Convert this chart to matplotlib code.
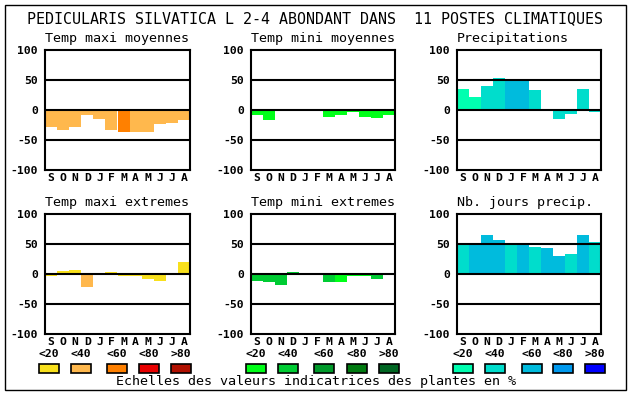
import matplotlib
matplotlib.use("Agg")
import matplotlib.pyplot as plt
from matplotlib.patches import Rectangle

W, H = 630, 394
months = ["S", "O", "N", "D", "J", "F", "M", "A", "M", "J", "J", "A"]
scale_labels = ["<20", "<40", "<60", "<80", ">80"]

title = "PEDICULARIS SILVATICA L 2-4 ABONDANT DANS  11 POSTES CLIMATIQUES"
footer = "Echelles des valeurs indicatrices des plantes en %"

oranges = ["#F8E01C", "#FFB84D", "#FF8000", "#E80000", "#B01000"]
greens = ["#00FF18", "#00CC33", "#009A2A", "#007A10", "#006622"]
blues = ["#00FFB0", "#00DDCC", "#00BBDD", "#0099EE", "#0000FF"]

# panel values
tmax_moy = [-28, -33, -28, -8, -15, -33, -36, -36, -36, -23, -21, -16]
tmax_moy_lvl = [1, 1, 1, 1, 1, 1, 2, 1, 1, 1, 1, 1]
tmin_moy = [-8, -16, 0, 2, 2, 0, -11, -8, -4, -11, -13, -8]
tmin_moy_lvl = [0, 0, 0, 0, 0, 0, 0, 0, 0, 0, 0, 0]
precip = [35, 22, 40, 53, 52, 50, 33, 2, -15, -6, 35, -3]
precip_lvl = [0, 0, 1, 1, 2, 2, 1, 1, 1, 1, 1, 1]
tmax_ext = [-3, 5, 7, -21, 2, 3, -3, -3, -8, -11, 0, 20]
tmax_ext_lvl = [0, 0, 0, 1, 1, 0, 0, 0, 0, 0, 0, 0]
tmin_ext = [-11, -14, -18, 3, 2, 0, -13, -13, -3, -3, -8, -2]
tmin_ext_lvl = [1, 1, 1, 1, 1, 1, 1, 0, 0, 0, 1, 0]
nb_jours = [50, 50, 65, 57, 50, 50, 45, 43, 30, 33, 65, 53]
nb_jours_lvl = [1, 2, 2, 2, 1, 2, 1, 2, 2, 1, 2, 1]

panels = [
    ("Temp maxi moyennes", tmax_moy, tmax_moy_lvl, oranges),
    ("Temp mini moyennes", tmin_moy, tmin_moy_lvl, greens),
    ("Precipitations", precip, precip_lvl, blues),
    ("Temp maxi extremes", tmax_ext, tmax_ext_lvl, oranges),
    ("Temp mini extremes", tmin_ext, tmin_ext_lvl, greens),
    ("Nb. jours precip.", nb_jours, nb_jours_lvl, blues),
]

MONO = "DejaVu Sans Mono"
fig = plt.figure(figsize=(W / 100, H / 100), dpi=100)
fig.patch.set_facecolor("white")

def fx(px):
    return px / W

def fy(py):
    return 1 - py / H

# outer frame
fig.add_artist(Rectangle((fx(4.5), fy(390)), fx(626) - fx(4.5), fy(5) - fy(390),
                         transform=fig.transFigure, fill=False, edgecolor="black", lw=1.0))

fig.text(fx(315), fy(19), title, ha="center", va="center", family=MONO, fontsize=10.8)

cols = [(45, 190), (251, 395), (457, 601)]
rows = [(50, 170), (214, 334)]

for i, (name, vals, lvls, pal) in enumerate(panels):
    r, c = divmod(i, 3)
    x0, x1 = cols[c]
    y0, y1 = rows[r]
    ax = fig.add_axes([fx(x0), fy(y1), fx(x1) - fx(x0), fy(y0) - fy(y1)])
    xs = list(range(12))
    ax.bar(xs, vals, width=1.0, color=[pal[l] for l in lvls], linewidth=0, zorder=2)
    for g in (50, 0, -50):
        ax.axhline(g, color="black", lw=1.5, zorder=3)
    ax.set_xlim(-0.5, 11.5)
    ax.set_ylim(-100, 100)
    ax.set_yticks([100, 50, 0, -50, -100])
    ax.set_yticklabels(["100", "50", "0", "-50", "-100"], family=MONO,
                       fontweight="bold", fontsize=8.2)
    ax.set_xticks(xs)
    ax.set_xticklabels(months, family=MONO, fontweight="bold", fontsize=8.2)
    ax.tick_params(length=0)
    ax.tick_params(axis="x", pad=2)
    ax.tick_params(axis="y", pad=5)
    for s in ax.spines.values():
        s.set_linewidth(1.5)
        s.set_zorder(4)
    ax.set_title(name, family=MONO, fontsize=9.6, pad=6, loc="left")

# legend scales
swatch_x = [
    [39, 71, 107, 139, 171],
    [246, 278, 314, 347, 379],
    [453, 485, 522, 553, 585],
]
for pal, xs_ in zip([oranges, greens, blues], swatch_x):
    for col, lab, sx in zip(pal, scale_labels, xs_):
        fig.add_artist(Rectangle((fx(sx), fy(373)), fx(20), fy(364) - fy(373),
                                 transform=fig.transFigure, facecolor=col,
                                 edgecolor="black", lw=1.2))
        fig.text(fx(sx + 10), fy(354), lab, ha="center", va="center", family=MONO,
                 fontweight="bold", fontsize=8.2)

fig.text(fx(316), fy(382), footer, ha="center", va="center", family=MONO, fontsize=9.6)

fig.savefig("out.png", dpi=100, facecolor="white")
